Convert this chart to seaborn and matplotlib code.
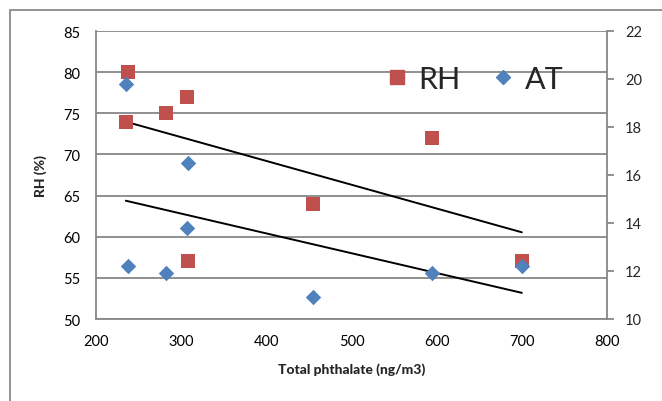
import numpy as np
import pandas as pd
import matplotlib
matplotlib.use("Agg")
import matplotlib.pyplot as plt
import seaborn as sns
from matplotlib.lines import Line2D
from matplotlib.patches import Rectangle

# data
phthalate = [236, 236, 282, 307, 307, 455, 595, 700]
rh_x = [237, 235, 282, 307, 308, 455, 595, 700]
rh = [80, 74, 75, 77, 57, 64, 72, 57]
at_x = [235, 237, 282, 308, 307, 455, 595, 700]
at = [19.8, 12.2, 11.9, 16.5, 13.8, 10.9, 11.9, 12.2]
x_ticks = [200, 300, 400, 500, 600, 700, 800]
rh_ticks = [50, 55, 60, 65, 70, 75, 80, 85]
at_ticks = [10, 12, 14, 16, 18, 20, 22]

df_rh = pd.DataFrame({"x": rh_x, "y": rh})
df_at = pd.DataFrame({"x": at_x, "y": at})

sns.set_style("white")
plt.rcParams["font.family"] = ["Lato", "DejaVu Sans"]

RED = "#C0504D"
BLUE = "#4F81BD"
GRID = "#878787"

fig = plt.figure(figsize=(6.62, 4.02), dpi=100)
ax = fig.add_axes([96/662, 1-320/402, (607-96)/662, (320-32)/402])
ax2 = ax.twinx()

# outer chart border
fig.patches.append(Rectangle((10/662, -0.1), 1.2, 1 - 11/402 + 0.1, transform=fig.transFigure,
                             fill=False, edgecolor="#8a8a8a", linewidth=1.3, zorder=0))

sns.regplot(data=df_rh, x="x", y="y", ax=ax, scatter=False, ci=None,
            line_kws=dict(color="black", lw=1.4))
sns.scatterplot(data=df_rh, x="x", y="y", ax=ax, marker="s", s=95, color=RED,
                edgecolor=RED, linewidth=0, zorder=3)
sns.regplot(data=df_at, x="x", y="y", ax=ax2, scatter=False, ci=None,
            line_kws=dict(color="black", lw=1.4))
sns.scatterplot(data=df_at, x="x", y="y", ax=ax2, marker="D", s=62, color=BLUE,
                edgecolor=BLUE, linewidth=0, zorder=3)

ax.set_xlim(200, 800)
ax.set_ylim(50, 85)
ax2.set_ylim(10, 22)
ax.set_xticks(x_ticks)
ax.set_yticks(rh_ticks)
ax2.set_yticks(at_ticks)

ax.yaxis.grid(True, color=GRID, lw=1.3)
ax.set_axisbelow(True)
for a in (ax, ax2):
    for s in a.spines.values():
        s.set_visible(False)
ax.spines["left"].set_visible(True)
ax.spines["bottom"].set_visible(True)
ax2.spines["right"].set_visible(True)
for s in (ax.spines["left"], ax.spines["bottom"], ax2.spines["right"]):
    s.set_color(GRID)
    s.set_linewidth(1.3)

ax.tick_params(axis="both", length=0, labelsize=10.5, colors="black")
ax.tick_params(axis="y", pad=11)
ax.tick_params(axis="x", pad=11)
ax2.tick_params(axis="y", length=5, width=1.3, color=GRID, labelsize=10.5, pad=8)

ax.set_xlabel("Total phthalate (ng/m3)", fontsize=10, fontweight="black", labelpad=10)
ax.set_ylabel("RH (%)", fontsize=10, fontweight="black", labelpad=12)
ax2.set_ylabel("")

handles = [Line2D([], [], marker="s", ls="", color=RED, markersize=10),
           Line2D([], [], marker="D", ls="", color=BLUE, markersize=7.5)]
ax2.legend(handles, ["RH", "AT"], loc="center", bbox_to_anchor=(0.737, 0.833), ncol=2,
           frameon=False, fontsize=22, handletextpad=0.2, columnspacing=0.9, handlelength=1.0)

fig.savefig("out.png", dpi=100)
